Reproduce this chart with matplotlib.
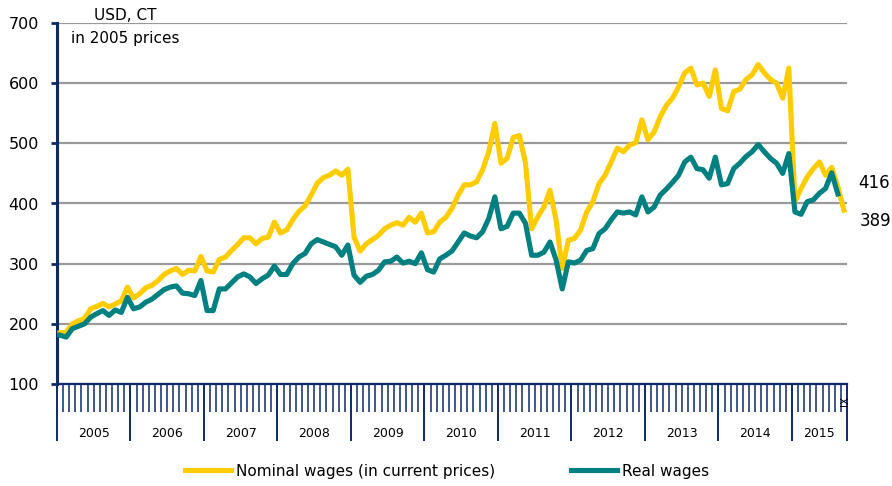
import numpy as np
import matplotlib.pyplot as plt
from matplotlib.ticker import FixedLocator

# monthly wages, Jan 2005 .. Sep 2015 (USD, constant 2005 prices)
years = ['2005', '2006', '2007', '2008', '2009', '2010',
         '2011', '2012', '2013', '2014', '2015']
months_in_year = [12, 12, 12, 12, 12, 12, 12, 12, 12, 12, 9]
last_month_label = 'IX'

nominal = [185, 186, 200, 205, 209, 225, 229, 234, 228, 233, 238, 261,
           243, 250, 260, 264, 272, 282, 288, 292, 282, 289, 288, 312,
           288, 286, 307, 311, 322, 332, 343, 343, 333, 342, 344, 369,
           351, 356, 373, 387, 396, 414, 434, 443, 447, 454, 447, 457,
           344, 321, 333, 340, 347, 358, 364, 368, 364, 377, 369, 384,
           351, 353, 369, 377, 392, 414, 431, 431, 436, 456, 486, 533,
           467, 475, 510, 513, 467, 358, 378, 394, 422, 372, 292, 339,
           342, 356, 386, 403, 433, 447, 469, 492, 486, 497, 501, 539,
           506, 519, 544, 563, 575, 594, 617, 625, 597, 600, 578, 622,
           558, 554, 586, 590, 606, 614, 631, 617, 606, 600, 575, 625,
           403, 425, 444, 458, 469, 447, 460, 428, 389]

real = [181, 178, 192, 196, 200, 211, 217, 222, 214, 223, 219, 244,
        225, 228, 236, 241, 249, 257, 261, 263, 251, 250, 247, 272,
        222, 222, 258, 258, 268, 278, 283, 278, 267, 275, 281, 296,
        282, 282, 300, 311, 317, 333, 340, 336, 332, 328, 314, 331,
        281, 269, 279, 282, 289, 303, 304, 311, 301, 304, 300, 318,
        290, 286, 308, 314, 321, 336, 351, 346, 343, 353, 375, 411,
        358, 362, 384, 384, 367, 314, 314, 319, 336, 306, 258, 303,
        301, 306, 322, 325, 350, 358, 373, 386, 384, 386, 381, 411,
        386, 394, 414, 424, 435, 447, 469, 477, 458, 456, 442, 477,
        431, 433, 458, 467, 478, 486, 498, 486, 475, 467, 450, 483,
        386, 382, 403, 406, 417, 425, 451, 416]

YELLOW = '#FFCC00'
TEAL = '#008080'
NAVY = '#0D2A6B'
GRID = '#999999'

plt.rcParams['font.family'] = ['DejaVu Sans']

fig = plt.figure(figsize=(8.92, 4.86), dpi=100)
ax = fig.add_axes([57 / 892, 1 - 384 / 486, 790 / 892, 361 / 486])

n_months = sum(months_in_year)
x_nom = np.arange(len(nominal)) + 0.5
x_real = np.arange(len(real)) + 0.5

ax.plot(x_nom, nominal, color=YELLOW, lw=3.7, solid_joinstyle='round',
        label='Nominal wages (in current prices)', zorder=3)
ax.plot(x_real, real, color=TEAL, lw=3.7, solid_joinstyle='round',
        label='Real wages', zorder=4)

ax.set_xlim(0, n_months)
ax.set_ylim(100, 700)
ax.set_yticks(range(100, 701, 100))
ax.yaxis.grid(True, color=GRID, lw=1.6)
ax.set_axisbelow(True)

for s in ['top', 'right']:
    ax.spines[s].set_visible(False)
ax.spines['left'].set_color(NAVY)
ax.spines['left'].set_linewidth(2.2)
ax.spines['bottom'].set_color(NAVY)
ax.spines['bottom'].set_linewidth(1.6)

ax.tick_params(axis='y', direction='out', length=4, width=2, color=NAVY,
               labelsize=11.5, pad=9)

# month ticks (minor) and year boundaries (major)
year_edges = np.concatenate([[0], np.cumsum(months_in_year)])
ax.xaxis.set_major_locator(FixedLocator(year_edges))
ax.xaxis.set_minor_locator(FixedLocator(np.arange(n_months + 1)))
ax.tick_params(axis='x', which='major', length=41, width=1.4, color=NAVY,
               labelbottom=False)
ax.tick_params(axis='x', which='minor', length=20, width=1.1, color=NAVY)

trans = ax.get_xaxis_transform()
for i, yr in enumerate(years):
    mid = (year_edges[i] + year_edges[i + 1]) / 2
    ax.text(mid, -0.136, yr, transform=trans, ha='center', va='center',
            fontsize=9)
ax.text(n_months - 0.4, -0.048, last_month_label, transform=trans,
        ha='center', va='center', rotation=90, fontsize=7.5)

# end-of-series value labels
ax.annotate(f'{real[-1]}', xy=(x_real[-1], real[-1]), xytext=(15, 8),
            textcoords='offset points', ha='left', va='center',
            fontsize=12, annotation_clip=False)
ax.annotate(f'{nominal[-1]}', xy=(x_nom[-1], nominal[-1]), xytext=(11, -8),
            textcoords='offset points', ha='left', va='center',
            fontsize=12, annotation_clip=False)

fig.text(125 / 892, 1 - 15 / 486, 'USD, CT', ha='center', va='center',
         fontsize=11)
fig.text(125 / 892, 1 - 39 / 486, 'in 2005 prices', ha='center',
         va='center', fontsize=11)

fig.legend(loc='center', bbox_to_anchor=(447 / 892, 1 - 471 / 486), ncol=2,
           frameon=False, fontsize=11, handlelength=3.0, handletextpad=0.3,
           columnspacing=5.0)

fig.savefig('out.png', dpi=100)
